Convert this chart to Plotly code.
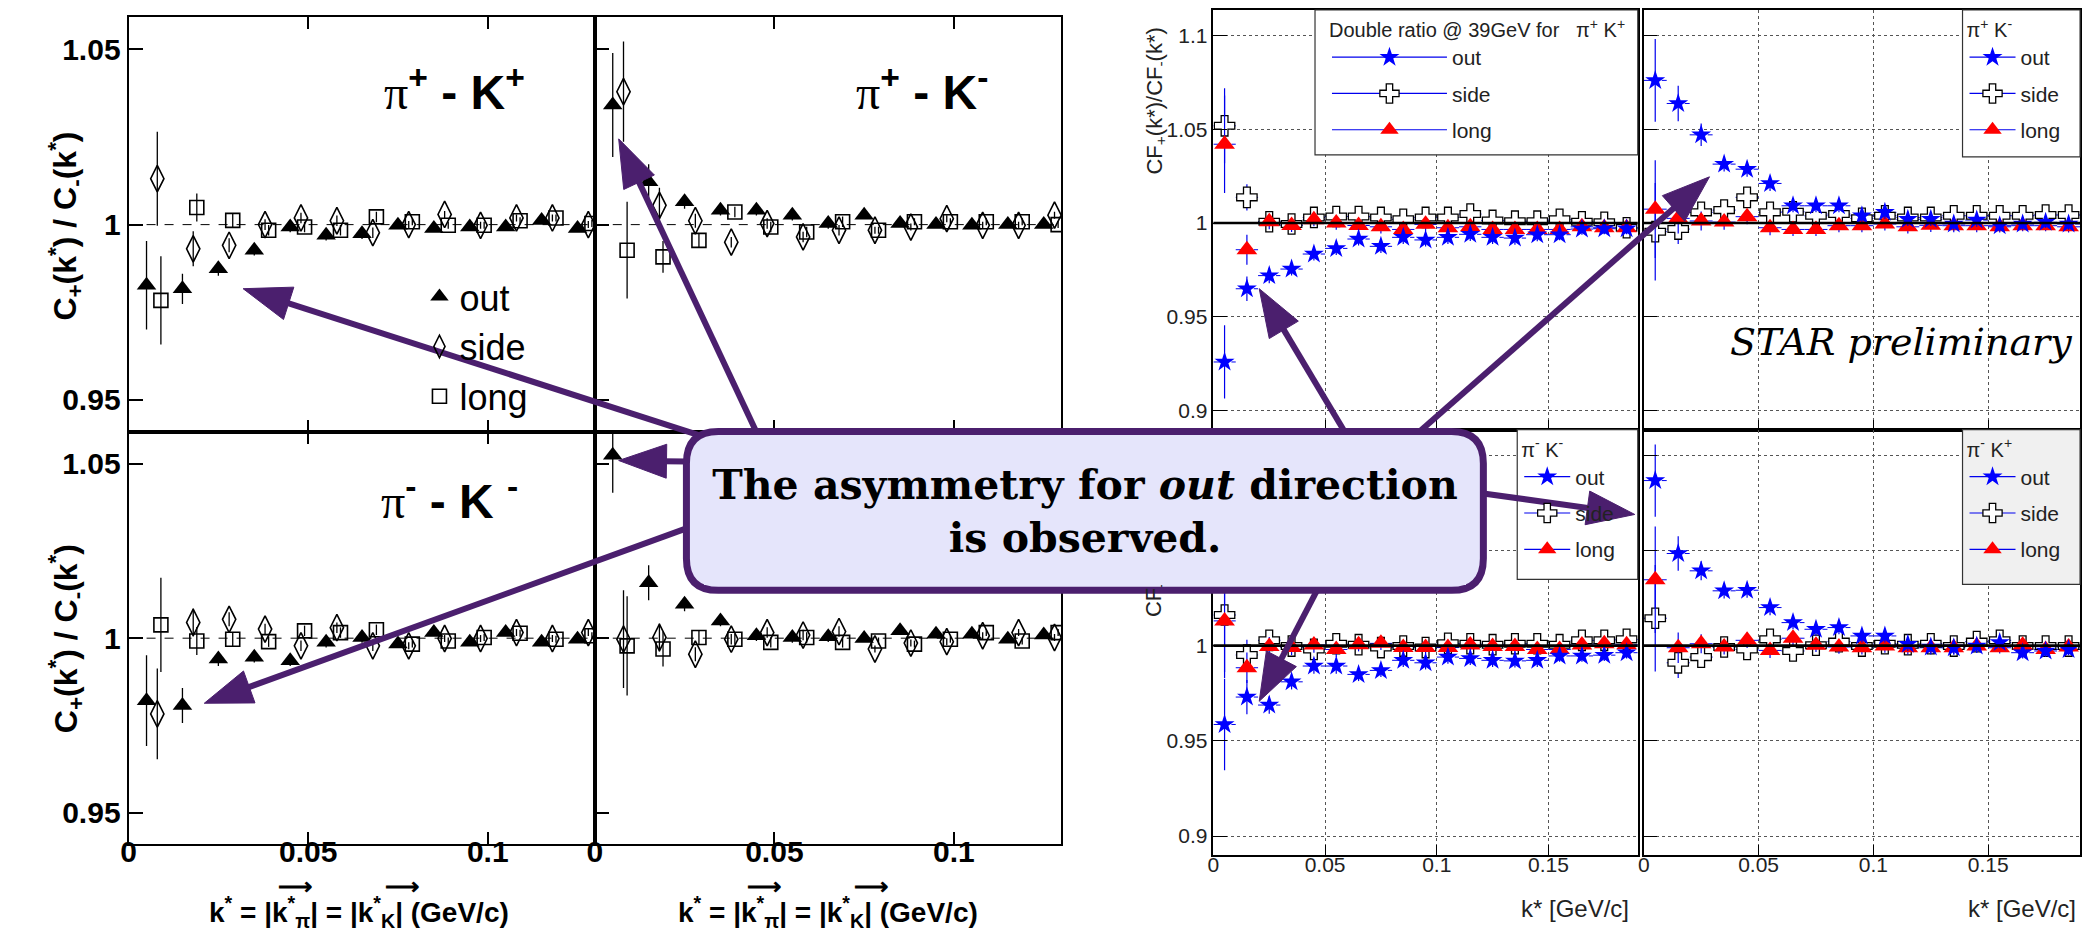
import plotly.graph_objects as go

W, H = 2091, 930

# ---------------- data: left figure (C+/C- ratios) ----------------
kL_out = [0.005, 0.015, 0.025, 0.035, 0.045, 0.055, 0.065, 0.075, 0.085, 0.095, 0.105, 0.115, 0.125]
kL_side = [0.008, 0.018, 0.028, 0.038, 0.048, 0.058, 0.068, 0.078, 0.088, 0.098, 0.108, 0.118, 0.128]
kL_long = [0.009, 0.019, 0.029, 0.039, 0.049, 0.059, 0.069, 0.079, 0.089, 0.099, 0.109, 0.119, 0.129]

A_out = [0.9827, 0.9817, 0.9874, 0.9927, 0.9993, 0.9970, 0.9974, 0.9998, 0.9989, 0.9993, 0.9993, 1.0012, 0.9989]
A_out_e = [0.0126, 0.0043, 0.002, 0.0015, 0.0015, 0.0015, 0.0015, 0.001, 0.001, 0.001, 0.001, 0.001, 0.001]
A_side = [1.0131, 0.9931, 0.9941, 1.0, 1.0019, 1.0011, 0.9977, 1.0, 1.0029, 0.9998, 1.0019, 1.0019, 1.0]
A_side_e = [0.0134, 0.005, 0.002, 0.0015, 0.0015, 0.0015, 0.0015, 0.001, 0.001, 0.001, 0.001, 0.001, 0.001]
A_long = [0.9784, 1.0049, 1.0012, 0.9984, 0.9993, 0.9984, 1.0022, 1.0008, 0.9998, 0.9998, 1.0011, 1.0019, 1.0003]
A_long_e = [0.0126, 0.004, 0.002, 0.0015, 0.0015, 0.0015, 0.0015, 0.001, 0.001, 0.001, 0.001, 0.001, 0.001]

B_out = [1.0341, 1.0122, 1.0065, 1.0041, 1.0041, 1.0027, 1.0003, 1.0027, 1.0003, 1.0, 0.9998, 1.0, 1.0]
B_out_e = [0.0148, 0.005, 0.002, 0.0015, 0.0015, 0.0015, 0.0015, 0.001, 0.001, 0.001, 0.001, 0.001, 0.001]
B_side = [1.0379, 1.0055, 1.0011, 0.9950, 1.0003, 0.9965, 0.9984, 0.9984, 0.9993, 1.0017, 0.9998, 0.9998, 1.0027]
B_side_e = [0.0143, 0.005, 0.002, 0.0015, 0.0015, 0.0015, 0.0015, 0.001, 0.001, 0.001, 0.001, 0.001, 0.001]
B_long = [0.9927, 0.9908, 0.9955, 1.0036, 0.9993, 0.9979, 1.0008, 0.9984, 1.0008, 1.0008, 1.0008, 1.0008, 1.0]
B_long_e = [0.0138, 0.0045, 0.002, 0.0015, 0.0015, 0.0015, 0.0015, 0.001, 0.001, 0.001, 0.001, 0.001, 0.001]

C_out = [0.9821, 0.9807, 0.9940, 0.9945, 0.9935, 0.9988, 1.0002, 0.9983, 1.0016, 0.9988, 1.0016, 0.9988, 0.9997]
C_out_e = [0.013, 0.005, 0.002, 0.0015, 0.0015, 0.0015, 0.0015, 0.001, 0.001, 0.001, 0.001, 0.001, 0.001]
C_side = [0.9783, 1.0045, 1.0054, 1.0026, 0.9978, 1.0030, 0.9978, 0.9978, 0.9999, 0.9999, 1.0016, 0.9999, 1.0016]
C_side_e = [0.013, 0.004, 0.002, 0.0015, 0.0015, 0.0015, 0.0015, 0.001, 0.001, 0.001, 0.001, 0.001, 0.001]
C_long = [1.0038, 0.9992, 0.9997, 0.9990, 1.0021, 1.0016, 1.0024, 0.9983, 0.9992, 1.0002, 1.0014, 0.9997, 1.0007]
C_long_e = [0.0135, 0.004, 0.002, 0.0015, 0.0015, 0.0015, 0.0015, 0.001, 0.001, 0.001, 0.001, 0.001, 0.001]

D_out = [1.0524, 1.0159, 1.0097, 1.0049, 1.0007, 1.0002, 1.0004, 0.9999, 1.0021, 1.0011, 1.0011, 0.9997, 1.0009]
D_out_e = [0.0107, 0.005, 0.002, 0.0015, 0.0015, 0.0015, 0.0015, 0.001, 0.001, 0.001, 0.001, 0.001, 0.001]
D_side = [0.9997, 1.0002, 0.9954, 0.9997, 1.0016, 1.0009, 1.0019, 0.9969, 0.9986, 0.9990, 1.0007, 1.0016, 1.0002]
D_side_e = [0.014, 0.004, 0.002, 0.0015, 0.0015, 0.0015, 0.0015, 0.001, 0.001, 0.001, 0.001, 0.001, 0.001]
D_long = [0.9978, 0.9969, 1.0002, 0.9997, 0.9988, 1.0002, 0.9988, 0.9992, 0.9983, 0.9997, 1.0016, 0.9992, 1.0016]
D_long_e = [0.0142, 0.005, 0.002, 0.0015, 0.0015, 0.0015, 0.0015, 0.001, 0.001, 0.001, 0.001, 0.001, 0.001]

# ---------------- data: right figure (STAR 39 GeV double ratio) ----------------
kR = [0.005, 0.015, 0.025, 0.035, 0.045, 0.055, 0.065, 0.075, 0.085, 0.095,
      0.105, 0.115, 0.125, 0.135, 0.145, 0.155, 0.165, 0.175, 0.185]
kR_halfbin = [0.005] * 19

PpKp_out = [0.926, 0.965, 0.972, 0.9755, 0.9835, 0.9865, 0.9915, 0.9876, 0.9924, 0.991, 0.9924, 0.994, 0.9924, 0.992, 0.9938, 0.9938, 0.9968, 0.997, 0.997]
PpKp_out_e = [0.0195, 0.0065, 0.004, 0.0035, 0.0035, 0.0035, 0.0035, 0.0035, 0.0035, 0.0035, 0.0035, 0.0035, 0.0035, 0.0035, 0.0035, 0.003, 0.003, 0.003, 0.003]
PpKp_side = [1.0518, 1.0137, 1.0007, 0.9995, 1.003, 1.0035, 1.0035, 1.003, 1.002, 1.003, 1.003, 1.0048, 1.0014, 1.001, 1.001, 1.002, 1.0007, 1.0004, 0.9975]
PpKp_side_e = [0.02, 0.007, 0.004, 0.0035, 0.0035, 0.0035, 0.0035, 0.0035, 0.0035, 0.0035, 0.0035, 0.0035, 0.0035, 0.0035, 0.0035, 0.003, 0.003, 0.003, 0.003]
PpKp_long = [1.042, 0.9858, 1.0007, 0.9987, 1.0018, 1.0, 0.9987, 0.998, 0.9966, 0.9993, 0.9975, 0.998, 0.9966, 0.9966, 0.9966, 0.9966, 0.998, 0.9975, 0.9975]
PpKp_long_e = [0.026, 0.008, 0.004, 0.0035, 0.0035, 0.0035, 0.0035, 0.0035, 0.0035, 0.0035, 0.0035, 0.0035, 0.0035, 0.0035, 0.0035, 0.003, 0.003, 0.003, 0.003]

PpKm_out = [1.076, 1.0637, 1.047, 1.0314, 1.0287, 1.0211, 1.0092, 1.0092, 1.0092, 1.0039, 1.0057, 1.002, 1.002, 0.9995, 1.0016, 0.9986, 0.9995, 1.0004, 0.9995]
PpKm_out_e = [0.022, 0.0095, 0.006, 0.004, 0.004, 0.004, 0.0035, 0.0035, 0.0035, 0.0035, 0.0035, 0.0035, 0.0035, 0.0035, 0.0035, 0.003, 0.003, 0.003, 0.003]
PpKm_side = [0.9954, 0.9968, 1.0057, 1.0069, 1.0137, 1.0057, 1.006, 1.0039, 1.0048, 1.0025, 1.0039, 1.003, 1.003, 1.0039, 1.0039, 1.0039, 1.0039, 1.0043, 1.0043]
PpKm_side_e = [0.026, 0.008, 0.005, 0.004, 0.004, 0.004, 0.0035, 0.0035, 0.0035, 0.0035, 0.0035, 0.0035, 0.0035, 0.0035, 0.0035, 0.003, 0.003, 0.003, 0.003]
PpKm_long = [1.0074, 1.0025, 1.0011, 1.0005, 1.0034, 0.9975, 0.9966, 0.9966, 0.9986, 0.9986, 0.9995, 0.998, 0.9988, 0.9986, 0.9986, 0.998, 0.9986, 0.9986, 0.998]
PpKm_long_e = [0.026, 0.008, 0.005, 0.004, 0.004, 0.004, 0.0035, 0.0035, 0.0035, 0.0035, 0.0035, 0.0035, 0.0035, 0.0035, 0.0035, 0.003, 0.003, 0.003, 0.003]

PmKm_out = [0.9586, 0.973, 0.9688, 0.981, 0.9893, 0.9893, 0.9849, 0.987, 0.9923, 0.991, 0.994, 0.9933, 0.9923, 0.992, 0.9923, 0.9946, 0.9946, 0.995, 0.9963]
PmKm_out_e = [0.024, 0.009, 0.0045, 0.004, 0.004, 0.004, 0.0035, 0.0035, 0.0035, 0.0035, 0.0035, 0.0035, 0.0035, 0.0035, 0.0035, 0.003, 0.003, 0.003, 0.003]
PmKm_side = [1.0161, 0.9951, 1.0028, 0.9998, 0.998, 1.001, 1.0005, 0.999, 0.9998, 0.999, 1.0012, 1.001, 1.0005, 1.001, 1.001, 1.0005, 1.0028, 1.0028, 1.0033]
PmKm_side_e = [0.03, 0.008, 0.005, 0.004, 0.004, 0.004, 0.0035, 0.0035, 0.0035, 0.0035, 0.0035, 0.0035, 0.0035, 0.0035, 0.0035, 0.003, 0.003, 0.003, 0.003]
PmKm_long = [1.013, 0.9884, 0.9996, 0.999, 1.0003, 0.998, 1.0005, 1.0012, 0.999, 0.999, 0.999, 1.0003, 0.9996, 0.9996, 0.998, 0.998, 1.0003, 1.001, 1.0005]
PmKm_long_e = [0.03, 0.008, 0.005, 0.004, 0.004, 0.004, 0.0035, 0.0035, 0.0035, 0.0035, 0.0035, 0.0035, 0.0035, 0.0035, 0.0035, 0.003, 0.003, 0.003, 0.003]

PmKp_out = [1.0867, 1.0484, 1.0393, 1.0288, 1.0291, 1.02, 1.0121, 1.0086, 1.0095, 1.0051, 1.0051, 1.0007, 0.9993, 0.9989, 0.9998, 1.0016, 0.9963, 0.9972, 0.998]
PmKp_out_e = [0.019, 0.009, 0.005, 0.004, 0.004, 0.004, 0.0035, 0.0035, 0.0035, 0.0035, 0.0035, 0.0035, 0.0035, 0.0035, 0.0035, 0.003, 0.003, 0.003, 0.003]
PmKp_side = [1.0144, 0.991, 0.994, 0.9993, 0.998, 1.0033, 0.9972, 1.0002, 1.0021, 0.9998, 1.001, 1.0005, 1.001, 0.9998, 1.0021, 1.0028, 0.9998, 0.9998, 0.9998]
PmKp_side_e = [0.028, 0.008, 0.005, 0.004, 0.004, 0.004, 0.0035, 0.0035, 0.0035, 0.0035, 0.0035, 0.0035, 0.0035, 0.0035, 0.0035, 0.003, 0.003, 0.003, 0.003]
PmKp_long = [1.0346, 0.9989, 1.001, 0.9993, 1.0028, 0.9975, 1.0039, 1.0002, 0.9993, 0.9989, 0.9998, 0.9989, 0.9989, 0.9989, 0.9998, 0.9989, 1.0002, 0.998, 0.9993]
PmKp_long_e = [0.028, 0.008, 0.005, 0.004, 0.004, 0.004, 0.0035, 0.0035, 0.0035, 0.0035, 0.0035, 0.0035, 0.0035, 0.0035, 0.0035, 0.003, 0.003, 0.003, 0.003]

series_names = ["out", "side", "long"]
left_ticks_x = [0, 0.05, 0.1]
left_ticks_x_text = ["0", "0.05", "0.1"]
left_ticks_y = [0.95, 1.0, 1.05]
left_ticks_y_text = ["0.95", "1", "1.05"]
right_ticks_x = [0, 0.05, 0.1, 0.15]
right_ticks_x_text = ["0", "0.05", "0.1", "0.15"]
right_ticks_y = [0.9, 0.95, 1.0, 1.05, 1.1]
right_ticks_y_text = ["0.9", "0.95", "1", "1.05", "1.1"]

# ---------------- helpers ----------------
def PX(x):
    return x / W

def PY(y):
    return 1 - y / H

fig = go.Figure()
SANS = "Liberation Sans, Arial, sans-serif"
SERIF = "DejaVu Serif, serif"

left_panels = {
    1: (113, 581, 8, 423),
    2: (581, 1049, 8, 423),
    3: (113, 581, 423, 836),
    4: (581, 1049, 423, 836),
}
right_panels = {
    5: (1202, 1628, 1, 421),
    6: (1634, 2072, 1, 421),
    7: (1202, 1628, 421, 847),
    8: (1634, 2072, 421, 847),
}

layout_axes = {}
for i, (x0, x1, y0, y1) in left_panels.items():
    xn = "xaxis" if i == 1 else f"xaxis{i}"
    yn = "yaxis" if i == 1 else f"yaxis{i}"
    layout_axes[xn] = dict(
        domain=[PX(x0), PX(x1)], anchor="y" if i == 1 else f"y{i}",
        range=[0, 0.1298], tickvals=left_ticks_x, ticktext=left_ticks_x_text,
        showticklabels=(i in (3, 4)), ticks="inside", ticklen=12, tickwidth=1.5,
        tickcolor="black", showline=True, linecolor="black", linewidth=2,
        mirror="ticks", showgrid=False, zeroline=False, ticklabelstandoff=-20,
        tickfont=dict(family=SANS, size=30, color="black", weight="bold"),
    )
    layout_axes[yn] = dict(
        domain=[PY(y1), PY(y0)], anchor="x" if i == 1 else f"x{i}",
        range=[0.941, 1.0592], tickvals=left_ticks_y, ticktext=left_ticks_y_text,
        showticklabels=(i in (1, 3)), ticks="inside", ticklen=14, tickwidth=1.5,
        tickcolor="black", showline=True, linecolor="black", linewidth=2,
        mirror=True, showgrid=False, zeroline=False,
        tickfont=dict(family=SANS, size=30, color="black", weight="bold"),
    )

for i, (x0, x1, y0, y1) in right_panels.items():
    layout_axes[f"xaxis{i}"] = dict(
        domain=[PX(x0), PX(x1)], anchor=f"y{i}",
        range=[0, 0.19], tickvals=right_ticks_x, ticktext=right_ticks_x_text,
        showticklabels=(i in (7, 8)), ticks="inside", ticklen=10, tickwidth=1.2,
        tickcolor="black", showline=True, linecolor="black", linewidth=1.5,
        mirror=True, showgrid=True, gridcolor="#555", griddash="dot", gridwidth=1,
        zeroline=False, ticklabelstandoff=-10,
        tickfont=dict(family=SANS, size=21, color="#222"),
    )
    layout_axes[f"yaxis{i}"] = dict(
        domain=[PY(y1), PY(y0)], anchor=f"x{i}",
        range=[0.89, 1.1135], tickvals=right_ticks_y, ticktext=right_ticks_y_text,
        showticklabels=(i in (5, 7)), ticks="inside", ticklen=14, tickwidth=1.2,
        tickcolor="black", showline=True, linecolor="black", linewidth=1.5,
        mirror=True, showgrid=True, gridcolor="#555", griddash="dot", gridwidth=1,
        zeroline=False,
        tickfont=dict(family=SANS, size=21, color="#222"),
    )

# ---------------- left figure traces ----------------
left_data = {
    1: [(A_side, A_side_e), (A_long, A_long_e), (A_out, A_out_e)],
    2: [(B_side, B_side_e), (B_long, B_long_e), (B_out, B_out_e)],
    3: [(C_side, C_side_e), (C_long, C_long_e), (C_out, C_out_e)],
    4: [(D_side, D_side_e), (D_long, D_long_e), (D_out, D_out_e)],
}
left_style = [
    ("side", kL_side, dict(symbol="diamond-tall-open", size=19, color="black", line=dict(color="black", width=1.6))),
    ("long", kL_long, dict(symbol="square-open", size=14, color="black", line=dict(color="black", width=1.6))),
    ("out", kL_out, dict(symbol="triangle-up", size=17, color="black", line=dict(width=0))),
]
legend_order_left = {"out": 1, "side": 2, "long": 3}
for i, series in left_data.items():
    xa = "x" if i == 1 else f"x{i}"
    ya = "y" if i == 1 else f"y{i}"
    for (name, kx, mk), (vals, errs) in zip(left_style, series):
        fig.add_trace(go.Scatter(
            x=kx, y=vals, mode="markers", xaxis=xa, yaxis=ya, name=name,
            marker=mk, error_y=dict(type="data", array=errs, color="black", thickness=1.3, width=0),
            showlegend=(i == 1), legend="legend", legendrank=legend_order_left[name],
        ))

# ---------------- right figure traces ----------------
right_data = {
    5: [(PpKp_side, PpKp_side_e), (PpKp_long, PpKp_long_e), (PpKp_out, PpKp_out_e)],
    6: [(PpKm_side, PpKm_side_e), (PpKm_long, PpKm_long_e), (PpKm_out, PpKm_out_e)],
    7: [(PmKm_side, PmKm_side_e), (PmKm_long, PmKm_long_e), (PmKm_out, PmKm_out_e)],
    8: [(PmKp_side, PmKp_side_e), (PmKp_long, PmKp_long_e), (PmKp_out, PmKp_out_e)],
}
right_style = {
    "side": dict(symbol="cross", size=17, color="white", line=dict(color="black", width=1.3)),
    "long": dict(symbol="triangle-up", size=18, color="red", line=dict(width=0)),
    "out": dict(symbol="star", size=15, color="blue", line=dict(width=0)),
}
BLUE = "#0000ee"
for i, series in right_data.items():
    hx, hy = [], []
    for vals, _ in series:
        for k, hb, v in zip(kR, kR_halfbin, vals):
            hx += [k - hb, k + hb, None]
            hy += [v, v, None]
    fig.add_trace(go.Scatter(x=hx, y=hy, mode="lines", xaxis=f"x{i}", yaxis=f"y{i}",
                             line=dict(color=BLUE, width=1, dash="dash"), showlegend=False,
                             hoverinfo="skip"))
    for name, (vals, errs) in zip(["side", "long", "out"], series):
        fig.add_trace(go.Scatter(
            x=kR, y=vals, mode="markers", xaxis=f"x{i}", yaxis=f"y{i}", name=name,
            marker=right_style[name],
            error_y=dict(type="data", array=errs, color=BLUE, thickness=1.2, width=0),
            showlegend=False,
        ))

for lg in ["legend2", "legend3", "legend4", "legend5"]:
    for r, name in enumerate(series_names):
        fig.add_trace(go.Scatter(
            x=[None], y=[None], mode="lines+markers", name=name, xaxis="x5", yaxis="y5",
            marker=right_style[name], line=dict(color=BLUE, width=1.2),
            legend=lg, legendgroup=f"{lg}_{name}", legendrank=r + 1, showlegend=True,
        ))

# ---------------- shapes ----------------
shapes = []
for i in left_panels:
    xa = "x" if i == 1 else f"x{i}"
    ya = "y" if i == 1 else f"y{i}"
    shapes.append(dict(type="line", xref=f"{xa} domain", yref=ya, x0=0, x1=1, y0=1, y1=1,
                       line=dict(color="black", width=1, dash="dash"), layer="below"))
for i in right_panels:
    shapes.append(dict(type="line", xref=f"x{i} domain", yref=f"y{i}", x0=0, x1=1, y0=1, y1=1,
                       line=dict(color="black", width=2.6), layer="above"))

legend_boxes = [
    ("legend2", 1304, 1628, 1, 146, "white", 1316, 115),
    ("legend3", 1954, 2072, 1, 148, "white", 1956, 46),
    ("legend4", 1507, 1628, 421, 571, "white", 1509, 46),
    ("legend5", 1954, 2072, 421, 576, "#f0f0f0", 1956, 46),
]
for _, lx0, lx1, ly0, ly1, bg, _, _ in legend_boxes:
    shapes.append(dict(type="rect", xref="paper", yref="paper",
                       x0=PX(lx0), x1=PX(lx1), y0=PY(ly1), y1=PY(ly0),
                       fillcolor=bg, line=dict(color="#333", width=1.2)))

PURPLE = "#4b1f6e"
arrows = [
    ((687, 427), (228, 280)),
    ((743, 423), (605, 130)),
    ((673, 453), (605, 452)),
    ((673, 520), (189, 695)),
    ((1336, 427), (1248, 280)),
    ((1409, 423), (1700, 168)),
    ((1473, 485), (1625, 506)),
    ((1306, 582), (1248, 693)),
]
HL, HW = 48, 17
for (tx, ty), (hx_, hy_) in arrows:
    dx, dy = hx_ - tx, hy_ - ty
    L = (dx * dx + dy * dy) ** 0.5
    ux, uy = dx / L, dy / L
    nx, ny = -uy, ux
    bx, by = hx_ - ux * HL, hy_ - uy * HL
    shapes.append(dict(type="line", xref="paper", yref="paper",
                       x0=PX(tx), y0=PY(ty), x1=PX(bx + ux * 4), y1=PY(by + uy * 4),
                       line=dict(color=PURPLE, width=6)))
    path = (f"M{PX(hx_)},{PY(hy_)} L{PX(bx + nx * HW)},{PY(by + ny * HW)} "
            f"L{PX(bx - nx * HW)},{PY(by - ny * HW)} Z")
    shapes.append(dict(type="path", xref="paper", yref="paper", path=path,
                       fillcolor=PURPLE, line=dict(color=PURPLE, width=1)))

bx0, by0, bx1, by1, rr = 673, 423, 1473, 582, 32
BOXFILL = "#e5e5fb"
def P(x, y):
    return f"{PX(x)},{PY(y)}"
box_path = (f"M{P(bx0 + rr, by0)} L{P(bx1 - rr, by0)} Q{P(bx1, by0)} {P(bx1, by0 + rr)} "
            f"L{P(bx1, by1 - rr)} Q{P(bx1, by1)} {P(bx1 - rr, by1)} "
            f"L{P(bx0 + rr, by1)} Q{P(bx0, by1)} {P(bx0, by1 - rr)} "
            f"L{P(bx0, by0 + rr)} Q{P(bx0, by0)} {P(bx0 + rr, by0)} Z")
shapes.append(dict(type="path", xref="paper", yref="paper", path=box_path,
                   fillcolor=BOXFILL, line=dict(color=PURPLE, width=7)))

# ---------------- annotations ----------------
ann = []
def text(x, y, t, size, family=SANS, color="black", xanchor="center", yanchor="middle", angle=0, **kw):
    ann.append(dict(x=PX(x), y=PY(y), xref="paper", yref="paper", text=t, showarrow=False,
                    xanchor=xanchor, yanchor=yanchor, textangle=angle,
                    font=dict(family=family, size=size, color=color, **kw)))

pi = "<span style='font-family:Liberation Serif;font-weight:normal'>π</span>"
text(440, 80, f"{pi}<sup>+</sup> - K<sup>+</sup>", 48, weight="bold")
text(909, 80, f"{pi}<sup>+</sup> - K<sup>-</sup>", 48, weight="bold")
text(435, 490, f"{pi}<sup>-</sup> - K <sup>-</sup>", 48, weight="bold")

ytitle_left = "C<sub>+</sub>(k<sup>*</sup>) / C<sub>-</sub>(k<sup>*</sup>)"
text(50, 217, ytitle_left, 32, angle=-90, weight="bold")
text(50, 630, ytitle_left, 32, angle=-90, weight="bold")

xtitle_left = "k<sup>*</sup> = |k<sup>*</sup><sub>π</sub>| = |k<sup>*</sup><sub>K</sub>| (GeV/c)"
text(344, 904, xtitle_left, 28, weight="bold")
text(815, 904, xtitle_left, 28, weight="bold")
for ax_ in (280, 387, 751, 858):
    text(ax_, 878, "⟶", 24, weight="bold")

ytitle_right = "CF<sub>+</sub>(k*)/CF<sub>-</sub>(k*)"
text(1144, 92, ytitle_right, 22, color="#222", angle=-90)
text(1144, 535, ytitle_right, 22, color="#222", angle=-90)
text(1621, 900, "k* [GeV/c]", 24, color="#222", xanchor="right")
text(2070, 900, "k* [GeV/c]", 24, color="#222", xanchor="right")

text(2066, 333, "STAR preliminary", 38, family=SERIF, style="italic", xanchor="right")

ann.append(dict(x=PX((bx0 + bx1) / 2), y=PY((by0 + by1) / 2 + 1), xref="paper", yref="paper",
                text="<b>The asymmetry for <i>out</i> direction<br>is observed.</b>",
                showarrow=False, xanchor="center", yanchor="middle",
                width=bx1 - bx0 - 40, height=by1 - by0 - 14, bgcolor=BOXFILL, borderwidth=0,
                align="center", valign="middle",
                font=dict(family=SERIF, size=41, color="black")))

leg_common = dict(xanchor="left", yanchor="top", bgcolor="rgba(0,0,0,0)", borderwidth=0,
                  itemsizing="trace", traceorder="grouped", tracegroupgap=6,
                  font=dict(family=SANS, size=21, color="#222"))
legend_titles = {
    "legend2": "Double ratio @ 39GeV for   π<sup>+</sup> K<sup>+</sup>",
    "legend3": "π<sup>+</sup> K<sup>-</sup>",
    "legend4": "π<sup>-</sup> K<sup>-</sup>",
    "legend5": "π<sup>-</sup> K<sup>+</sup>",
}
legends = {}
for lg, lx0, lx1, ly0, ly1, bg, lxpos, iw in legend_boxes:
    legends[lg] = dict(x=PX(lxpos), y=PY(ly0 + 1), itemwidth=iw,
                       title=dict(text=legend_titles[lg], font=dict(family=SANS, size=20, color="#222")),
                       **leg_common)

fig.update_layout(
    width=W, height=H, autosize=False,
    margin=dict(l=0, r=0, t=0, b=0),
    paper_bgcolor="white", plot_bgcolor="white",
    shapes=shapes, annotations=ann,
    **layout_axes,
    legend=dict(x=PX(405), y=PY(258), xanchor="left", yanchor="top",
                bgcolor="rgba(0,0,0,0)", borderwidth=0, itemsizing="trace", itemwidth=30,
                font=dict(family=SANS, size=36, color="black"), tracegroupgap=0),
    **legends,
)

fig.write_html("out.html")
